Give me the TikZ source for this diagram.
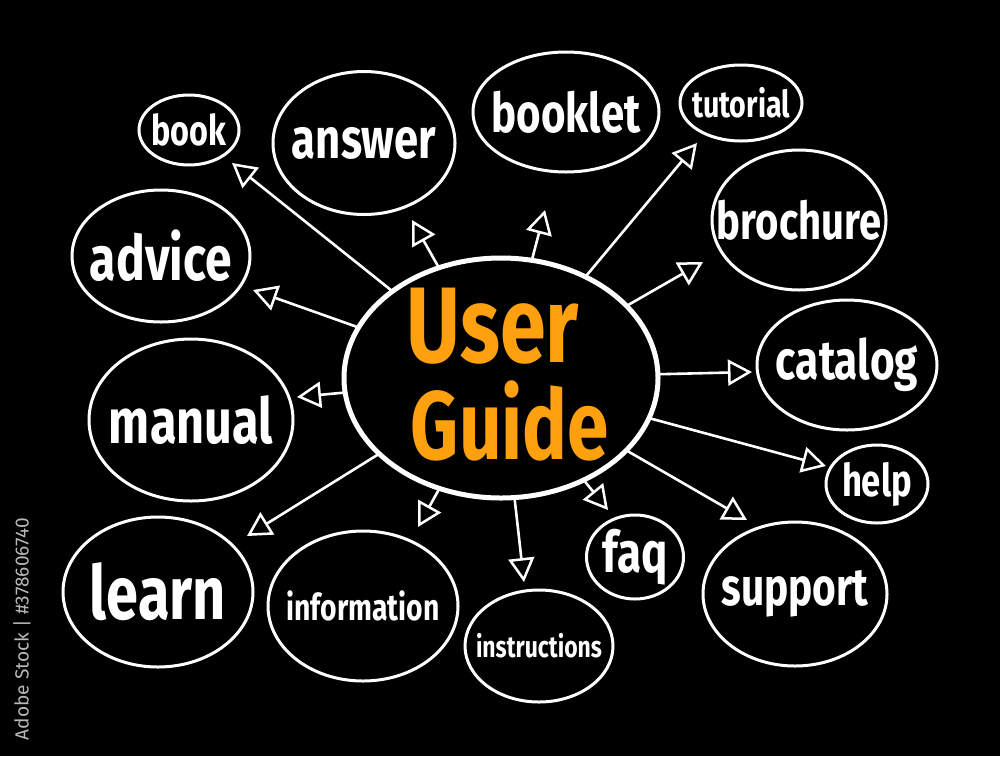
\documentclass[tikz,border=0pt]{standalone}
\usepackage{fontspec}
\setmainfont{Fira Sans}
\usetikzlibrary{shapes.geometric,arrows.meta}
\newcommand{\fitw}[2]{\resizebox{#1}{!}{\scalebox{1}[1.3]{\bfseries #2}}}
\definecolor{ugorange}{HTML}{FFA00F}
\definecolor{stockgray}{HTML}{B8B8B8}
\begin{document}
\begin{tikzpicture}[x=1pt,y=-1pt,
  bubble/.style={draw=white, line width=3pt, ellipse, inner sep=0pt},
  word/.style={text=white, inner sep=0pt},
  link/.style={draw=white, line width=2.6pt, line cap=round,
    -{Triangle[open, length=24pt, width=26pt, line width=2.5pt]}}]
\fill[black] (0,0) rectangle (1000,756);
\useasboundingbox (0,0) rectangle (1000,756);

% center
\node[bubble, line width=5pt, minimum width=314pt, minimum height=240pt] (UG) at (501,378) {};
\node[word, text=ugorange] (UGa) at (493,326) {\fitw{172pt}{User}};
\node[word, text=ugorange] (UGb) at (510,421) {\fitw{198pt}{Guide}};

% outer bubbles
\node[bubble, minimum width=100pt, minimum height=70pt] (book) at (189,130) {};
\node[word] (bookt) at (book) {\fitw{75pt}{book}};
\node[bubble, minimum width=182pt, minimum height=143pt] (answer) at (364,143) {};
\node[word] (answert) at (answer) {\fitw{144pt}{answer}};
\node[bubble, minimum width=186pt, minimum height=120pt] (booklet) at (566,112) {};
\node[word] (booklett) at (booklet) {\fitw{149pt}{booklet}};
\node[bubble, minimum width=122pt, minimum height=76pt] (tutorial) at (741,103) {};
\node[word] (tutorialt) at (tutorial) {\fitw{98pt}{tutorial}};
\node[bubble, minimum width=174pt, minimum height=140pt] (brochure) at (799,220) {};
\node[word] (brochuret) at (brochure) {\fitw{164pt}{brochure}};
\node[bubble, minimum width=178pt, minimum height=132pt] (advice) at (161,256) {};
\node[word] (advicet) at (advice) {\fitw{142pt}{advice}};
\node[bubble, minimum width=180pt, minimum height=130pt] (catalog) at (847,365) {};
\node[word] (catalogt) at (catalog) {\fitw{142pt}{catalog}};
\node[bubble, minimum width=204pt, minimum height=162pt] (manual) at (191,420) {};
\node[word] (manualt) at (manual) {\fitw{164pt}{manual}};
\node[bubble, minimum width=102pt, minimum height=78pt] (help) at (877,484) {};
\node[word] (helpt) at (help) {\fitw{70pt}{help}};
\node[bubble, minimum width=190pt, minimum height=150pt] (learn) at (158,592) {};
\node[word] (learnt) at (learn) {\fitw{136pt}{learn}};
\node[bubble, minimum width=190pt, minimum height=150pt] (information) at (363,606) {};
\node[word] (informationt) at (information) {\fitw{153pt}{information}};
\node[bubble, minimum width=148pt, minimum height=112pt] (instructions) at (539,646) {};
\node[word] (instructionst) at (instructions) {\fitw{126pt}{instructions}};
\node[bubble, minimum width=97pt, minimum height=84pt] (faq) at (635,557) {};
\node[word] (faqt) at (faq) {\fitw{65pt}{faq}};
\node[bubble, minimum width=184pt, minimum height=144pt] (support) at (795,594) {};
\node[word] (supportt) at (support) {\fitw{147pt}{support}};

% arrow tips
\coordinate (tbook) at (232,163);
\coordinate (tanswer) at (412,220);
\coordinate (tbooklet) at (545,210);
\coordinate (ttutorial) at (697,143);
\coordinate (tbrochure) at (703,262);
\coordinate (tadvice) at (253,290);
\coordinate (tcatalog) at (752,372);
\coordinate (tmanual) at (297,397);
\coordinate (thelp) at (826,466);
\coordinate (tlearn) at (247,536);
\coordinate (tinformation) at (418,527);
\coordinate (tinstructions) at (524,582);
\coordinate (tfaq) at (608,510);
\coordinate (tsupport) at (747,520);

\foreach \t in {book,answer,booklet,tutorial,brochure,advice,catalog,manual,help,learn,information,instructions,faq,support}
  \draw[link] (UG) -- (t\t);

% side credit
\node[text=stockgray, rotate=90] (credit) at (22,629)
  {\resizebox{222pt}{!}{Adobe Stock | \#378606740}};
\end{tikzpicture}
\end{document}
